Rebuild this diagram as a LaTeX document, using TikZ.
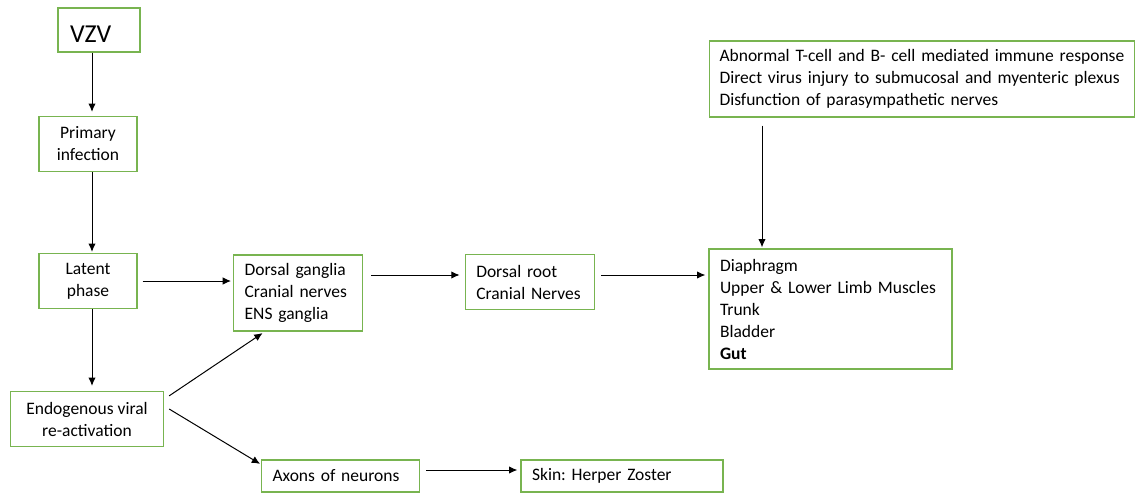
\documentclass[tikz,border=0pt]{standalone}
\usepackage{fontspec}
\setmainfont{Carlito}
\usetikzlibrary{arrows.meta}
\frenchspacing

\definecolor{boxgreen}{RGB}{120,180,80}
\tikzstyle{s} = [rectangle, draw=boxgreen, line width=0.8pt, align=center, inner sep=0pt, font=\fontsize{10.5}{13.2}\selectfont]
\tikzstyle{l} = [s, align=left, inner xsep=6.6pt]

\begin{document}
\begin{tikzpicture}[x=0.6pt,y=-0.6pt,semithick]
\tikzstyle{arr}=[-{Latex[length=5pt,width=4.5pt]},line width=0.6pt,black]

\useasboundingbox (0,0) rectangle (1135,493);

\node[l, inner xsep=7.2pt, text width=34.8pt, minimum height=26.4pt, text height=14.6pt, text depth=0pt, font=\fontsize{15.5}{18}\selectfont] (VZV) at (99,30) {VZV};
\node[s, minimum width=58.8pt, minimum height=33pt] (Primary) at (88,144) {Primary\\infection};
\node[s, minimum width=58.8pt, minimum height=33pt] (Latent) at (88,281) {Latent\\phase};
\node[s, minimum width=91.8pt, minimum height=33pt] (Reactivation) at (87,419) {Endogenous viral\\re-activation};

\node[l, text width=64pt, minimum height=45.6pt] (Ganglia) at (298,293) {Dorsal ganglia\\Cranial nerves\\ENS ganglia};
\node[l, text width=64.5pt, minimum height=33pt] (DorsalRoot) at (530,282) {Dorsal root\\Cranial Nerves};
\node[l, text width=132.6pt, minimum height=72pt] (Targets) at (830.5,309) {Diaphragm\\Upper \& Lower Limb Muscles\\Trunk\\Bladder\\\textbf{Gut}};
\node[l, inner xsep=6pt, text width=243pt, minimum height=45.6pt] (Mechanisms) at (922,79) {Abnormal T-cell and B- cell mediated immune response\\Direct virus injury to submucosal and myenteric plexus\\Disfunction of parasympathetic nerves};

\node[l, text width=81.6pt, minimum height=19.2pt] (Axons) at (340.5,476) {Axons of neurons};
\node[l, text width=108pt, minimum height=19.2pt] (Skin) at (622,476) {Skin: Herper Zoster};

\path[arr]
    ([xshift=-4.2pt]VZV.south) edge[shorten >=2.4pt] ([xshift=-4.2pt]VZV.south |- Primary.north)
    ([xshift=2.4pt]Primary.south) edge[shorten >=0.6pt] ([xshift=2.4pt]Primary.south |- Latent.north)
    ([xshift=2.4pt]Latent.south) edge[shorten >=3pt] ([xshift=2.4pt]Latent.south |- Reactivation.north)
    (Latent.east) edge[shorten <=3pt, shorten >=1.2pt] (Latent.east -| Ganglia.west)
    ([shift={(3pt,-3pt)}]Reactivation.north east) edge[shorten >=1.5pt] ([xshift=-20pt]Ganglia.south)
    ([shift={(3pt,6pt)}]Reactivation.east) edge[shorten >=0.5pt] ([yshift=-3pt]Axons.north west)
    ([yshift=10.8pt]Ganglia.east) edge[shorten <=4.8pt, shorten >=3pt] ([yshift=10.8pt]Ganglia.east -| DorsalRoot.west)
    ([yshift=4.2pt]DorsalRoot.east) edge[shorten <=3.6pt, shorten >=1.8pt] ([yshift=4.2pt]DorsalRoot.east -| Targets.west)
    ([xshift=-96pt]Mechanisms.south) edge[shorten <=4.8pt, shorten >=0.6pt] ([xshift=-96pt]Mechanisms.south |- Targets.north)
    ([yshift=3.6pt]Axons.east) edge[shorten <=3.6pt, shorten >=1.8pt] ([yshift=3.6pt]Axons.east -| Skin.west)
    ;

\end{tikzpicture}
\end{document}
